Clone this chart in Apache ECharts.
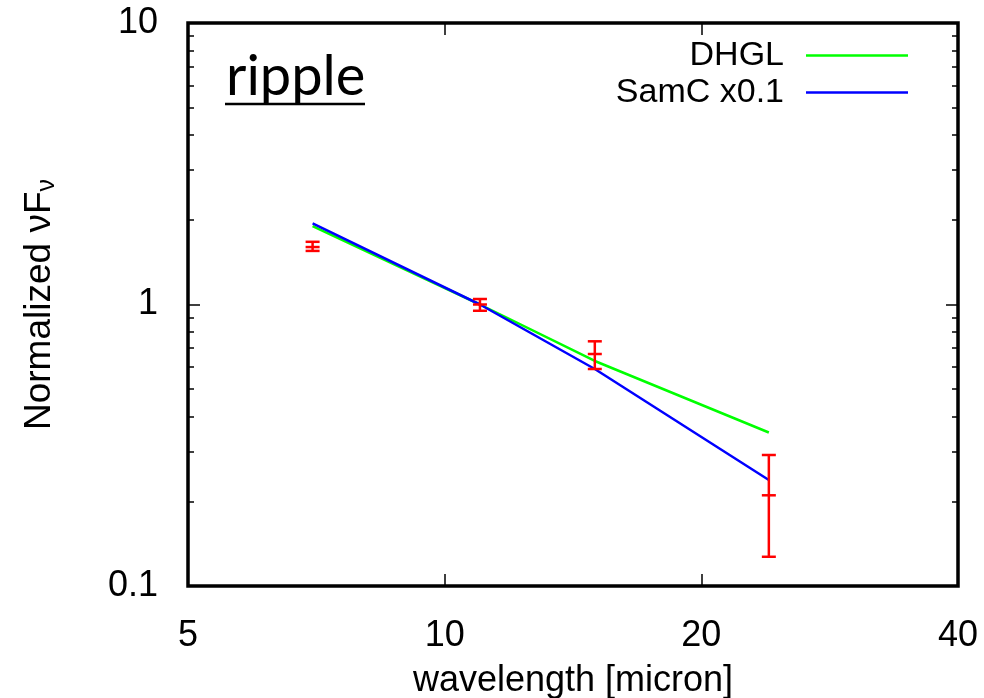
<!DOCTYPE html>
<html>
<head>
<meta charset="utf-8">
<script src="https://cdn.jsdelivr.net/npm/echarts@6/dist/echarts.min.js"></script>
<style>
  html, body { margin: 0; padding: 0; background: #fff; }
  #main { width: 984px; height: 698px; }
</style>
</head>
<body>
<div id="main"></div>
<script>
// data
var wave = [7, 11, 15, 24];
var obs = [1.60, 1.00, 0.667, 0.21];
var obsLo = [1.55, 0.95, 0.59, 0.127];
var obsHi = [1.67, 1.046, 0.74, 0.292];
var dhgl = [1.90, 1.00, 0.63, 0.351];
var samc = [1.94, 1.00, 0.59, 0.238];

var xTicks = [5, 10, 20, 40];
var yMinor = [0.2, 0.3, 0.4, 0.5, 0.6, 0.7, 0.8, 0.9, 2, 3, 4, 5, 6, 7, 8, 9];

var font = 'Liberation Sans';
var myChart = echarts.init(document.getElementById('main'));

function pairs(ys) {
    return wave.map(function (x, i) { return [x, ys[i]]; });
}

var errData = wave.map(function (x, i) { return [x, obs[i], obsLo[i], obsHi[i]]; });

function xAxisOf(pos, labels) {
    return {
        type: 'log', logBase: 10, min: 5, max: 40, position: pos,
        axisLine: { show: false },
        splitLine: { show: false },
        axisTick: { inside: true, length: 12, customValues: xTicks, lineStyle: { color: '#000', width: 1.5 } },
        axisLabel: { show: labels, customValues: xTicks, margin: 32, color: '#000', fontFamily: font, fontSize: 36 },
        name: labels ? 'wavelength [micron]' : '',
        nameLocation: 'middle', nameGap: 77,
        nameTextStyle: { color: '#000', fontFamily: font, fontSize: 36 }
    };
}

function yAxisOf(pos, minor, labels) {
    var ax = {
        type: 'log', logBase: 10, min: 0.1, max: 10, position: pos,
        axisLine: { show: false },
        splitLine: { show: false },
        axisTick: { inside: true, length: minor ? 6 : 12, lineStyle: { color: '#000', width: 1.5 } },
        axisLabel: { show: labels, margin: 30, color: '#000', fontFamily: font, fontSize: 36 }
    };
    if (minor) ax.axisTick.customValues = yMinor;
    if (labels) {
        ax.name = '{a|Normalized νF}{s|ν}';
        ax.nameLocation = 'middle';
        ax.nameGap = 128;
        ax.nameRotate = 90;
        ax.nameTextStyle = {
            rich: {
                a: { color: '#000', fontFamily: font, fontSize: 37 },
                s: { color: '#000', fontFamily: font, fontSize: 25, padding: [15, 0, 0, 0] }
            }
        };
    }
    return ax;
}

var option = {
    backgroundColor: '#fff',
    animation: false,
    grid: {
        left: 188, right: 26, top: 23, bottom: 112,
        outerBoundsMode: 'none',
        show: true, borderColor: '#000', borderWidth: 3.5
    },
    legend: {
        data: ['DHGL', 'SamC x0.1'],
        orient: 'vertical', align: 'right',
        right: 71, top: 32,
        icon: 'rect', itemWidth: 102, itemHeight: 2.5, itemGap: 0,
        textStyle: { color: '#000', fontFamily: font, fontSize: 34, lineHeight: 37, padding: [0, 17, 0, 0] }
    },
    xAxis: [xAxisOf('bottom', true), xAxisOf('top', false)],
    yAxis: [yAxisOf('left', false, true), yAxisOf('left', true, false), yAxisOf('right', false, false), yAxisOf('right', true, false)],
    graphic: [
        { type: 'text', left: 226, top: 49, style: { text: 'ripple', font: '56px Lato', fill: '#000' } },
        { type: 'line', shape: { x1: 225, y1: 104, x2: 365, y2: 104 }, style: { stroke: '#000', lineWidth: 2.5 } }
    ],
    series: [
        {
            name: 'DHGL', type: 'line', data: pairs(dhgl), symbol: 'none',
            lineStyle: { color: '#00ff00', width: 2.5 }, itemStyle: { color: '#00ff00' }, z: 3
        },
        {
            name: 'SamC x0.1', type: 'line', data: pairs(samc), symbol: 'none',
            lineStyle: { color: '#0000ff', width: 2.5 }, itemStyle: { color: '#0000ff' }, z: 4
        },
        {
            name: 'data', type: 'custom', data: errData, z: 5,
            encode: { x: 0, y: [1, 2, 3] },
            renderItem: function (params, api) {
                var x = api.value(0);
                var c = api.coord([x, api.value(1)]);
                var lo = api.coord([x, api.value(2)]);
                var hi = api.coord([x, api.value(3)]);
                var w = 7;
                var st = { stroke: '#ff0000', lineWidth: 2.5 };
                return {
                    type: 'group',
                    children: [
                        { type: 'line', shape: { x1: lo[0], y1: lo[1], x2: hi[0], y2: hi[1] }, style: st },
                        { type: 'line', shape: { x1: lo[0] - w, y1: lo[1], x2: lo[0] + w, y2: lo[1] }, style: st },
                        { type: 'line', shape: { x1: hi[0] - w, y1: hi[1], x2: hi[0] + w, y2: hi[1] }, style: st },
                        { type: 'line', shape: { x1: c[0] - w, y1: c[1], x2: c[0] + w, y2: c[1] }, style: st }
                    ]
                };
            }
        }
    ]
};
myChart.setOption(option);
</script>
</body>
</html>
